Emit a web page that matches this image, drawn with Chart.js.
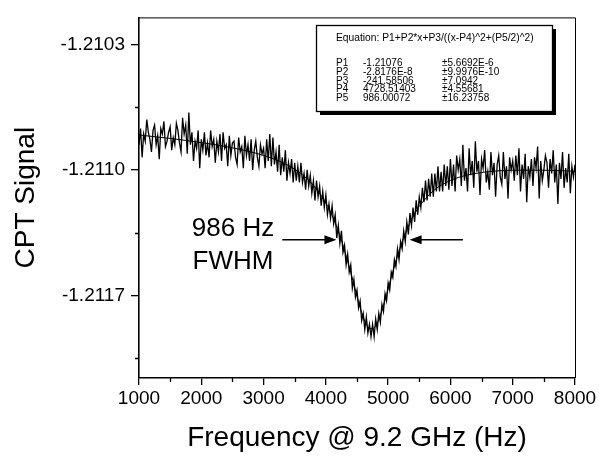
<!DOCTYPE html>
<html><head><meta charset="utf-8">
<script src="https://cdn.jsdelivr.net/npm/chart.js@4.4.0/dist/chart.umd.min.js"></script>
<style>html,body{margin:0;padding:0;background:#fff;}canvas{display:block;}</style>
</head><body>
<canvas id="c" width="599" height="458"></canvas>
<script>
// ---- data ----
const freqStart = 1000;   // Hz, first sample
const freqStep = 25;      // Hz between samples
const signal = [
-1.21086,-1.21077,-1.21093,-1.21080,-1.21084,-1.21072,-1.21079,-1.21083,-1.21090,-1.21078,-1.21075,-1.21086,-1.21081,-1.21094,-1.21077,-1.21080,-1.21073,-1.21087,-1.21084,-1.21079,-1.21076,-1.21089,-1.21082,-1.21086,-1.21074,-1.21078,-1.21085,-1.21090,-1.21071,-1.21080,-1.21075,-1.21091,-1.21068,-1.21086,-1.21079,-1.21095,-1.21084,-1.21088,-1.21078,-1.21099,-1.21083,
-1.21089,-1.21079,-1.21092,-1.21085,-1.21093,-1.21078,-1.21087,-1.21083,-1.21096,-1.21084,-1.21090,-1.21080,-1.21095,-1.21079,-1.21088,-1.21086,-1.21098,-1.21081,-1.21092,-1.21085,-1.21084,-1.21093,-1.21097,-1.21082,-1.21090,-1.21087,-1.21099,-1.21081,-1.21092,-1.21086,-1.21095,-1.21083,-1.21100,-1.21089,-1.21084,-1.21093,-1.21098,-1.21086,-1.21091,-1.21088,
-1.21099,-1.21083,-1.21095,-1.21080,-1.21098,-1.21082,-1.21097,-1.21090,-1.21101,-1.21086,-1.21103,-1.21093,-1.21101,-1.21089,-1.21106,-1.21096,-1.21102,-1.21094,-1.21107,-1.21096,
-1.21106,-1.21098,-1.21107,-1.21096,-1.21107,-1.21102,-1.21111,-1.21100,-1.21109,-1.21103,-1.21113,-1.21106,-1.21117,-1.21106,-1.21115,-1.21109,-1.21120,-1.21112,-1.21121,-1.21114,
-1.21125,-1.21119,-1.21127,-1.21120,-1.21130,-1.21125,-1.21138,-1.21131,-1.21141,-1.21134,-1.21146,-1.21142,-1.21153,-1.21147,-1.21157,-1.21153,-1.21166,-1.21161,-1.21171,-1.21167,
-1.21177,-1.21173,-1.21184,-1.21180,-1.21189,-1.21182,-1.21191,-1.21186,-1.21193,-1.21186,-1.21193,-1.21183,-1.21189,-1.21180,-1.21185,-1.21175,-1.21179,-1.21169,-1.21173,-1.21163,
-1.21167,-1.21157,-1.21160,-1.21150,-1.21154,-1.21144,-1.21150,-1.21140,-1.21144,-1.21134,-1.21140,-1.21129,-1.21136,-1.21124,-1.21131,-1.21121,-1.21129,-1.21117,-1.21125,-1.21115,
-1.21121,-1.21110,-1.21118,-1.21106,-1.21117,-1.21105,-1.21115,-1.21102,-1.21115,-1.21102,-1.21112,-1.21098,-1.21112,-1.21101,-1.21112,-1.21097,-1.21109,-1.21098,-1.21111,-1.21094,
-1.21109,-1.21097,-1.21112,-1.21092,-1.21100,-1.21094,-1.21109,-1.21086,-1.21106,-1.21099,-1.21112,-1.21088,-1.21103,-1.21095,-1.21110,-1.21084,-1.21101,-1.21095,-1.21114,-1.21094,-1.21099,-1.21089,-1.21107,-1.21101,-1.21111,-1.21090,-1.21103,-1.21096,-1.21115,-1.21097,-1.21092,-1.21104,-1.21108,-1.21090,-1.21105,-1.21098,-1.21116,-1.21093,-1.21100,-1.21095,
-1.21106,-1.21092,-1.21103,-1.21088,-1.21112,-1.21097,-1.21105,-1.21091,-1.21118,-1.21098,-1.21104,-1.21094,-1.21109,-1.21093,-1.21099,-1.21087,-1.21116,-1.21095,-1.21106,-1.21100,-1.21092,-1.21096,-1.21110,-1.21094,-1.21102,-1.21089,-1.21107,-1.21097,-1.21119,-1.21096,-1.21105,-1.21090,-1.21110,-1.21099,-1.21107,-1.21091,-1.21113,-1.21098,-1.21104,-1.21097
];
const fitFreq = [1000,1500,2000,2500,3000,3250,3500,3750,4000,4125,4250,4375,4400,4450,4500,4550,4600,4650,4700,4750,4800,4850,4900,5000,5050,5125,5250,5375,5500,5750,6000,6250,6500,7000,7500,8000];
const fitSignal = [-1.2108053,-1.2108249,-1.2108478,-1.2108768,-1.2109193,-1.2109510,-1.2109965,-1.2110669,-1.2111849,-1.2112740,-1.2113915,-1.2115398,-1.2115723,-1.2116389,-1.2117050,-1.2117670,-1.2118203,-1.2118604,-1.2118831,-1.2118859,-1.2118687,-1.2118337,-1.2117848,-1.2116636,-1.2115997,-1.2115080,-1.2113770,-1.2112769,-1.2112032,-1.2111098,-1.2110590,-1.2110305,-1.2110146,-1.2110019,-1.2110018,-1.2110075];
const xTicks = [1000,2000,3000,4000,5000,6000,7000,8000];
const xTickLabels = ['1000','2000','3000','4000','5000','6000','7000','8000'];
const xMinorTicks = [1500,2500,3500,4500,5500,6500,7500];
const yTicks = [-1.2117,-1.2110,-1.2103];
const yTickLabels = ['-1.2117','-1.2110','-1.2103'];
const yMinorTicks = [-1.21205,-1.21135,-1.21065];
const equationText = 'Equation: P1+P2*x+P3/((x-P4)^2+(P5/2)^2)';
const paramNames = ['P1','P2','P3','P4','P5'];
const paramValues = ['-1.21076','-2.8176E-8','-241.58506','4728.51403','986.00072'];
const paramErrors = ['\u00b15.6692E-6','\u00b19.9976E-10','\u00b17.0942','\u00b14.55681','\u00b116.23758'];
const fwhmLabel = ['986 Hz','FWHM'];
const fwhmArrowLevel = -1.21139;
const fwhmLeftArrow = [3300, 4170];
const fwhmRightArrow = [6200, 5345];

const FONT = "'Liberation Sans', Arial, Helvetica, sans-serif";
const signalPts = signal.map((v, i) => ({x: freqStart + i * freqStep, y: v}));
const fitPts = fitFreq.map((f, i) => ({x: f, y: fitSignal[i]}));

function drawArrow(ctx, x0, x1, yy) {
  const dir = Math.sign(x1 - x0);
  ctx.beginPath();
  ctx.moveTo(x0, yy); ctx.lineTo(x1 - dir * 8, yy);
  ctx.lineWidth = 1.5; ctx.stroke();
  ctx.beginPath();
  ctx.moveTo(x1, yy); ctx.lineTo(x1 - dir * 12, yy - 4.5); ctx.lineTo(x1 - dir * 12, yy + 4.5); ctx.closePath();
  ctx.fill();
}

const decor = {
  id: 'decor',
  afterDraw(chart) {
    const {ctx, chartArea: a, scales: {x, y}} = chart;
    ctx.save();
    ctx.strokeStyle = '#000'; ctx.fillStyle = '#000';
    // top and right frame
    ctx.lineWidth = 1;
    ctx.beginPath();
    ctx.moveTo(a.left, a.top + 0.5); ctx.lineTo(a.right + 0.5, a.top + 0.5); ctx.lineTo(a.right + 0.5, a.bottom);
    ctx.stroke();
    // minor ticks
    ctx.lineWidth = 1.3;
    ctx.beginPath();
    xMinorTicks.forEach(v => { const px = Math.round(x.getPixelForValue(v)) + 0.5; ctx.moveTo(px, a.bottom); ctx.lineTo(px, a.bottom + 4); });
    yMinorTicks.forEach(v => { const py = Math.round(y.getPixelForValue(v)) + 0.5; ctx.moveTo(a.left, py); ctx.lineTo(a.left - 4, py); });
    ctx.stroke();
    // axis titles
    ctx.font = '28px ' + FONT;
    ctx.textAlign = 'center'; ctx.textBaseline = 'middle';
    ctx.fillText('Frequency @ 9.2 GHz (Hz)', (a.left + a.right) / 2, 438);
    ctx.save();
    ctx.translate(26, (a.top + a.bottom) / 2);
    ctx.rotate(-Math.PI / 2);
    ctx.fillText('CPT Signal', 0, 0);
    ctx.restore();
    // FWHM annotation
    const ay = y.getPixelForValue(fwhmArrowLevel);
    ctx.font = '26px ' + FONT;
    ctx.textAlign = 'center'; ctx.textBaseline = 'alphabetic';
    ctx.fillText(fwhmLabel[0], 233, ay - 4);
    ctx.fillText(fwhmLabel[1], 233, ay + 29);
    drawArrow(ctx, x.getPixelForValue(fwhmLeftArrow[0]), x.getPixelForValue(fwhmLeftArrow[1]), ay);
    drawArrow(ctx, x.getPixelForValue(fwhmRightArrow[0]), x.getPixelForValue(fwhmRightArrow[1]), ay);
    // equation box
    const bx = 316, by = 25, bw = 236, bh = 86;
    ctx.fillRect(bx + 4, by + 4, bw, bh);
    ctx.fillStyle = '#fff'; ctx.fillRect(bx, by, bw, bh);
    ctx.lineWidth = 1.3; ctx.strokeRect(bx + 0.5, by + 0.5, bw, bh);
    ctx.fillStyle = '#000';
    ctx.textAlign = 'left'; ctx.textBaseline = 'alphabetic';
    ctx.font = '10px ' + FONT;
    const w = ctx.measureText(equationText).width;
    const fs = Math.min(11, 10 * 198 / w);
    ctx.font = fs.toFixed(2) + 'px ' + FONT;
    ctx.fillText(equationText, 336, 41);
    ctx.font = '10px ' + FONT;
    const rows = [66, 75, 83.5, 92, 100.5];
    paramNames.forEach((p, i) => {
      ctx.fillText(p, 336, rows[i]);
      ctx.fillText(paramValues[i], 363, rows[i]);
      ctx.fillText(paramErrors[i], 442, rows[i]);
    });
    ctx.restore();
  }
};

new Chart(document.getElementById('c'), {
  type: 'line',
  data: {
    datasets: [
      {label: 'CPT signal', data: signalPts, borderColor: '#000', borderWidth: 1.3, pointRadius: 0, tension: 0, fill: false},
      {label: 'Lorentzian fit', data: fitPts, borderColor: '#000', borderWidth: 1, pointRadius: 0, cubicInterpolationMode: 'monotone', fill: false}
    ]
  },
  options: {
    responsive: false, animation: false, devicePixelRatio: 1,
    layout: {padding: {left: 0, right: 24, top: 15, bottom: 0}},
    plugins: {legend: {display: false}, tooltip: {enabled: false}},
    scales: {
      x: {
        type: 'linear', min: 1000, max: 8000,
        afterBuildTicks: s => { s.ticks = xTicks.map(v => ({value: v})); },
        afterFit: s => { s.height = 80; },
        ticks: {color: '#000', font: {family: FONT, size: 19}, padding: 2, maxRotation: 0, autoSkip: false,
          callback: (v, i) => xTickLabels[i]},
        grid: {drawOnChartArea: false, drawTicks: true, tickLength: 7, color: '#000', lineWidth: 1.3},
        border: {display: true, color: '#000', width: 1.6}
      },
      y: {
        type: 'linear', min: -1.21216, max: -1.21015,
        afterBuildTicks: s => { s.ticks = yTicks.map(v => ({value: v})); },
        afterFit: s => { s.width = 139; },
        ticks: {color: '#000', font: {family: FONT, size: 19}, padding: 6,
          callback: (v, i) => yTickLabels[i]},
        grid: {drawOnChartArea: false, drawTicks: true, tickLength: 8, color: '#000', lineWidth: 1.3},
        border: {display: true, color: '#000', width: 1.6}
      }
    }
  },
  plugins: [decor]
});
</script>
</body></html>
